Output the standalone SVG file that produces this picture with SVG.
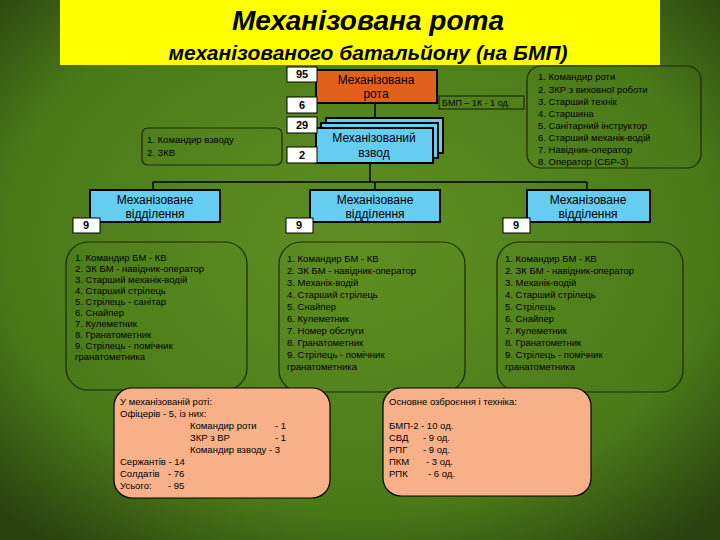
<svg xmlns="http://www.w3.org/2000/svg" width="720" height="540" viewBox="0 0 720 540">
<defs>
<radialGradient id="bg" cx="0.5" cy="0.45" r="0.7">
<stop offset="0" stop-color="#5f8f22"/><stop offset="0.7" stop-color="#4a7a18"/><stop offset="1" stop-color="#2a4210"/>
</radialGradient>
<style>
text{font-family:"Liberation Sans",Arial,sans-serif;fill:#000}
.blue{fill:#66ccf0;stroke:#000;stroke-width:2}
.num{fill:#fff;stroke:#000;stroke-width:1}
.nt{font-size:11px;text-anchor:middle;font-weight:bold}
.bt{font-size:12px;text-anchor:middle}
.li{fill:none;stroke:#1a2a08;stroke-width:1.2}
.lt{font-size:9.5px}
.pe{fill:#f8b088;stroke:#000;stroke-width:1.2}
.con{stroke:#000;stroke-width:1.5;fill:none}
</style>
</defs>
<rect width="720" height="540" fill="url(#bg)"/>
<g id="title">
<rect x="60" y="0" width="600" height="65" fill="#ffff00"/>
<text x="368" y="30" font-size="28" font-style="italic" font-weight="bold" text-anchor="middle">Механізована рота</text>
<text x="368" y="60" font-size="21" font-style="italic" font-weight="bold" text-anchor="middle">механізованого батальйону (на БМП)</text>
</g>
<g id="connectors">
<path class="con" d="M375 103V128M370 163V182M153 182H587M153 182V190M375 182V190M587 182V190"/>
</g>
<g id="rota">
<rect x="316" y="70" width="121" height="33" fill="#e0601c" stroke="#000" stroke-width="2"/>
<text class="bt" x="376" y="84">Механізована</text><text class="bt" x="376" y="98">рота</text>
<rect class="num" x="287" y="67" width="30" height="15"/><text class="nt" x="302" y="78">95</text>
<rect class="num" x="287" y="97" width="30" height="16"/><text class="nt" x="302" y="109">6</text>
<rect x="439" y="96" width="85" height="13" fill="none" stroke="#000" stroke-width="0.8"/>
<text x="442" y="106" font-size="9">БМП – 1К - 1 од.</text>
</g>
<g id="rota-list">
<rect class="li" x="527" y="66" width="174" height="102" rx="14"/>
<text class="lt" x="538" y="80">1. Командир роти</text>
<text class="lt" x="538" y="93">2. ЗКР з виховної роботи</text>
<text class="lt" x="538" y="105">3. Старший технік</text>
<text class="lt" x="538" y="117">4. Старшина</text>
<text class="lt" x="538" y="129">5. Санітарний інструктор</text>
<text class="lt" x="538" y="141">6. Старший механік-водій</text>
<text class="lt" x="538" y="153">7. Навідник-оператор</text>
<text class="lt" x="538" y="165">8. Оператор (СБР-3)</text>
</g>
<g id="vzvod">
<rect class="blue" x="326" y="118" width="117" height="35"/>
<rect class="blue" x="321" y="123" width="117" height="35"/>
<rect class="blue" x="316" y="128" width="117" height="35"/>
<text class="bt" x="374" y="142">Механізований</text><text class="bt" x="374" y="157">взвод</text>
<rect class="num" x="287" y="117" width="30" height="16"/><text class="nt" x="302" y="129">29</text>
<rect class="num" x="287" y="147" width="30" height="16"/><text class="nt" x="302" y="159">2</text>
<rect class="li" x="142" y="128" width="140" height="37" rx="6"/>
<text class="lt" x="147" y="143">1. Командир взводу</text>
<text class="lt" x="147" y="156">2. ЗКВ</text>
</g>
<g id="sq1">
<rect class="blue" x="90" y="190" width="130" height="32"/>
<text class="bt" x="155" y="204">Механізоване</text><text class="bt" x="155" y="218">відділення</text>
<rect class="num" x="73" y="218" width="27" height="15"/><text class="nt" x="86" y="229">9</text>
<rect class="li" x="66" y="242" width="181" height="148" rx="22"/>
<text class="lt" x="75" y="261">1. Командир БМ - КВ</text>
<text class="lt" x="75" y="272">2. ЗК БМ - навідник-оператор</text>
<text class="lt" x="75" y="283">3. Старший механік-водій</text>
<text class="lt" x="75" y="294">4. Старший стрілець</text>
<text class="lt" x="75" y="305">5. Стрілець - санітар</text>
<text class="lt" x="75" y="316">6. Снайпер</text>
<text class="lt" x="75" y="327">7. Кулеметник</text>
<text class="lt" x="75" y="338">8. Гранатометник</text>
<text class="lt" x="75" y="349">9. Стрілець - помічник</text>
<text class="lt" x="75" y="360">гранатометника</text>
</g>
<g id="sq2">
<rect class="blue" x="310" y="190" width="130" height="32"/>
<text class="bt" x="375" y="204">Механізоване</text><text class="bt" x="375" y="218">відділення</text>
<rect class="num" x="286" y="218" width="27" height="15"/><text class="nt" x="299" y="229">9</text>
<rect class="li" x="279" y="242" width="186" height="150" rx="22"/>
<text class="lt" x="287" y="262">1. Командир БМ - КВ</text>
<text class="lt" x="287" y="274">2. ЗК БМ - навідник-оператор</text>
<text class="lt" x="287" y="286">3. Механік-водій</text>
<text class="lt" x="287" y="298">4. Старший стрілець</text>
<text class="lt" x="287" y="310">5. Снайпер</text>
<text class="lt" x="287" y="322">6. Кулеметник</text>
<text class="lt" x="287" y="334">7. Номер обслуги</text>
<text class="lt" x="287" y="346">8. Гранатометник</text>
<text class="lt" x="287" y="358">9. Стрілець - помічник</text>
<text class="lt" x="287" y="370">гранатометника</text>
</g>
<g id="sq3">
<rect class="blue" x="527" y="190" width="123" height="32"/>
<text class="bt" x="588" y="204">Механізоване</text><text class="bt" x="588" y="218">відділення</text>
<rect class="num" x="503" y="218" width="27" height="15"/><text class="nt" x="516" y="229">9</text>
<rect class="li" x="497" y="242" width="186" height="150" rx="22"/>
<text class="lt" x="505" y="262">1. Командир БМ - КВ</text>
<text class="lt" x="505" y="274">2. ЗК БМ - навідник-оператор</text>
<text class="lt" x="505" y="286">3. Механік-водій</text>
<text class="lt" x="505" y="298">4. Старший стрілець</text>
<text class="lt" x="505" y="310">5. Стрілець</text>
<text class="lt" x="505" y="322">6. Снайпер</text>
<text class="lt" x="505" y="334">7. Кулеметник</text>
<text class="lt" x="505" y="346">8. Гранатометник</text>
<text class="lt" x="505" y="358">9. Стрілець - помічник</text>
<text class="lt" x="505" y="370">гранатометника</text>
</g>
<g id="summary">
<rect class="pe" x="114" y="388" width="216" height="110" rx="18"/>
<text class="lt" x="120" y="405">У механізованій роті:</text>
<text class="lt" x="120" y="417">Офіцерів - 5, із них:</text>
<text class="lt" x="190" y="429">Командир роти</text><text class="lt" x="275" y="429">- 1</text>
<text class="lt" x="190" y="441">ЗКР з ВР</text><text class="lt" x="275" y="441">- 1</text>
<text class="lt" x="190" y="453">Командир взводу - 3</text>
<text class="lt" x="120" y="465">Сержантів - 14</text>
<text class="lt" x="120" y="477">Солдатів</text><text class="lt" x="168" y="477">- 76</text>
<text class="lt" x="120" y="489">Усього:</text><text class="lt" x="168" y="489">- 95</text>
</g>
<g id="weapons">
<rect class="pe" x="383" y="388" width="208" height="108" rx="18"/>
<text class="lt" x="389" y="405">Основне озброєння і техніка:</text>
<text class="lt" x="389" y="429">БМП-2 - 10 од.</text>
<text class="lt" x="389" y="441">СВД</text><text class="lt" x="423" y="441">- 9 од.</text>
<text class="lt" x="389" y="453">РПГ</text><text class="lt" x="423" y="453">- 9 од.</text>
<text class="lt" x="389" y="465">ПКМ</text><text class="lt" x="426" y="465">- 3 од.</text>
<text class="lt" x="389" y="477">РПК</text><text class="lt" x="428" y="477">- 6 од.</text>
</g>
</svg>
